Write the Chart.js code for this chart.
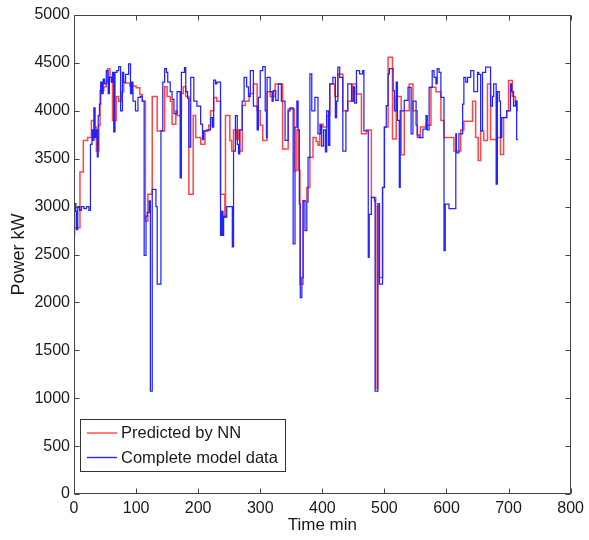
<!DOCTYPE html>
<html>
<head>
<meta charset="utf-8">
<script src="https://cdn.jsdelivr.net/npm/chart.js@4/dist/chart.umd.min.js"></script>
<style>
  html, body { margin: 0; padding: 0; background: #ffffff; }
  #wrap { width: 589px; height: 540px; }
</style>
</head>
<body>
<div id="wrap"><canvas id="c" width="589" height="540"></canvas></div>
<script>
// Time axis ticks (min) and power axis ticks (kW)
const xTickValues = [0, 100, 200, 300, 400, 500, 600, 700, 800];
const yTickValues = [0, 500, 1000, 1500, 2000, 2500, 3000, 3500, 4000, 4500, 5000];

const seriesNames = ['Predicted by NN', 'Complete model data'];

// Predicted by NN: change times (min) and held power levels (kW)
const predTimes = [0, 9.6, 15, 22, 28, 33, 36, 40, 42, 48, 52, 54, 58, 62, 68, 72, 76, 80, 90, 100,
  106, 110, 115, 119, 126, 134, 146, 150, 155, 158, 164, 166, 173, 176, 180, 185, 192, 196, 204, 211,
  217, 220, 225, 230, 236, 243, 244, 251, 254, 257, 262, 265, 267, 271, 276, 282, 289, 295, 300, 304,
  311, 316, 324, 336, 345, 355, 359, 362, 364, 369, 375, 380, 385, 390, 393, 396, 401, 407, 412, 420,
  425, 433, 441, 449, 455, 463, 471, 479, 486, 489, 492, 497, 500, 506, 513, 519, 527, 532, 540, 546,
  553, 558, 567, 575, 583, 591, 596, 612, 623, 628, 642, 647, 651, 655, 660, 666, 671, 682, 687, 692,
  697, 700, 706, 711, 714, 715];
const predPower = [2780, 3360, 3690, 3720, 3900, 3830, 3580, 3850, 4210, 4250, 4300, 4440, 4350, 3900, 4150, 4100, 4200, 4290, 4260, 4240,
  4170, 4100, 2850, 3130, 4150, 3790, 4250, 4150, 4100, 3860, 4000, 3950, 4180, 4250, 4150, 3130, 3950, 3720, 3650, 3790,
  3850, 4000, 4140, 4100, 3130, 2890, 3950, 3690, 3580, 3800, 3700, 3800, 3580, 4055, 4100, 4180, 4280, 4000, 3850, 3690,
  4200, 4150, 4280, 3600, 4020, 3375, 3800, 3380, 2190, 3060, 3200, 3515, 3720, 3680, 3640, 3860, 3830, 3950, 4280, 4150,
  4385, 4000, 4100, 4280, 4175, 3760, 3800, 3095, 1100, 3000, 2260, 3200, 3830, 4560, 3705, 4150, 3540, 4000, 4280, 4000,
  3720, 3830, 3850, 4245, 4200, 3900, 3720, 3580, 3800, 3890, 4100, 3720, 3480, 3790, 3690, 4280, 3700, 3720, 3545, 3930,
  4000, 4315, 4150, 4100, 4000, 4000];

// Complete model data: change times (min) and held power levels (kW)
const modelTimes = [0, 1, 3, 4, 6, 9, 12, 16, 20, 24, 26.5, 29, 31, 32, 34, 36, 37.5, 39, 41, 43,
  45, 47, 49, 52, 55, 57, 60, 62, 64, 66, 69, 72, 75, 78, 80, 83, 88, 91, 93, 95,
  99, 103, 107, 110, 113, 116, 118, 121, 123, 126, 132, 134, 140, 143, 146, 149, 151, 155, 158, 161,
  166, 171, 173, 178, 180, 183, 185, 188, 193, 198, 204, 207, 209, 214, 220, 223, 225, 228, 230, 236,
  238, 240, 241, 243, 246, 255, 257, 260, 263, 265, 267, 271, 274, 278, 281, 284, 289, 295, 297, 300,
  304, 308, 310, 311, 316, 319, 321, 325, 329, 334, 340, 345, 348, 353, 356, 359, 361, 363, 364.5, 367,
  369, 372, 375, 377, 380, 383, 388, 393, 397, 399, 402, 405, 407, 410, 412, 417, 421, 423, 425, 428,
  433, 438, 441, 447, 450, 452, 455, 460, 465, 467, 471, 474, 475.5, 479, 484, 485, 489.5, 492, 497, 500,
  503, 506, 508, 514, 516, 519, 521, 524, 525.5, 532, 538, 543, 546, 551, 553, 556, 562, 567, 569, 572,
  577, 580, 583, 585, 588, 591, 596, 598, 604, 615, 616, 620, 626, 628, 631, 634, 639, 644, 650, 652,
  655, 658, 663, 671, 674, 676, 680, 682, 685, 687, 689, 697, 703, 705, 708, 711, 713, 715];
const modelPower = [2700, 3030, 2950, 2760, 3000, 2960, 3000, 2980, 3000, 2960, 3650, 3800, 3690, 4030, 3720, 3800, 3520, 3950, 4070, 4300,
  4180, 4330, 4280, 4420, 4180, 4350, 4300, 4400, 3780, 4400, 4420, 4460, 4000, 4400, 4300, 4380, 4490, 4180, 4300, 4100,
  4000, 4140, 4150, 4100, 2490, 2900, 2940, 3060, 1075, 3180, 3000, 2190, 3790, 4300, 4440, 4400, 4300, 4200, 4120, 3970,
  4200, 3300, 4400, 4450, 4200, 4130, 3620, 4350, 4100, 4050, 3860, 3700, 3790, 3800, 3930, 3830, 4320, 4280, 4300, 2700,
  2950, 2700, 2900, 2890, 3000, 2580, 3580, 3950, 3650, 3550, 3800, 4100, 4350, 4250, 4150, 4420, 4050, 3800, 4140, 4420,
  4460, 4000, 3720, 4350, 4200, 4100, 4210, 4110, 4280, 4100, 3690, 4000, 4030, 2610, 3830, 4100, 3800, 3025, 2050, 2260,
  3060, 2750, 3050, 3515, 4385, 4000, 4140, 3760, 3850, 3630, 3800, 3570, 4000, 3640, 4280, 4350, 3930, 4100, 4455, 4350,
  3580, 4000, 4280, 4100, 4250, 4080, 4420, 4385, 4420, 3790, 3790, 2470, 2920, 3095, 3060, 1075, 3030, 2190, 3200, 3830,
  4055, 4385, 4440, 4210, 4000, 4300, 3900, 3200, 4000, 4110, 4245, 3760, 4100, 3850, 3750, 3720, 3810, 3950, 3800, 4245,
  4420, 4350, 4280, 4440, 4400, 4140, 2540, 3025, 2980, 3760, 3560, 3760, 4070, 4350, 4300, 4350, 4420, 4200, 4400, 4380,
  3790, 4400, 4455, 4050, 4150, 4280, 3235, 4200, 4100, 3720, 3930, 4000, 4280, 4200, 4050, 4100, 3700, 3700];

const toPoints = (ts, vs) => ts.map((t, i) => ({ x: t, y: vs[i] }));

const FONT = '"Liberation Sans", Arial, Helvetica, sans-serif';
const TEXT = '#1a1a1a';
const RED = '#ff4545';
const BLUE = '#2323ff';

// Box round the axes with inward tick marks on all four sides
const axesBox = {
  id: 'axesBox',
  afterDatasetsDraw(chart) {
    const { ctx, chartArea: a, scales: { x, y } } = chart;
    const L = Math.round(a.left) + 0.5, R = Math.round(a.right) - 0.5;
    const T = Math.round(a.top) + 0.5, B = Math.round(a.bottom) - 0.5;
    const len = 5;
    ctx.save();
    ctx.strokeStyle = '#454545';
    ctx.lineWidth = 1;
    ctx.beginPath();
    x.ticks.forEach(t => {
      const px = Math.round(x.getPixelForValue(t.value)) + 0.5;
      ctx.moveTo(px, B); ctx.lineTo(px, B - len);
      ctx.moveTo(px, T); ctx.lineTo(px, T + len);
    });
    y.ticks.forEach(t => {
      const py = Math.round(y.getPixelForValue(t.value)) + 0.5;
      ctx.moveTo(L, py); ctx.lineTo(L + len, py);
      ctx.moveTo(R, py); ctx.lineTo(R - len, py);
    });
    ctx.stroke();
    ctx.strokeRect(L, T, R - L, B - T);
    ctx.restore();
  }
};

// Boxed legend in the lower left corner of the plot
const boxedLegend = {
  id: 'boxedLegend',
  afterDraw(chart) {
    const { ctx } = chart;
    const ds = chart.data.datasets;
    const bx = 80.5, by = 419.5, bw = 205, bh = 52;
    ctx.save();
    ctx.fillStyle = '#ffffff';
    ctx.fillRect(bx, by, bw, bh);
    ctx.strokeStyle = '#333333';
    ctx.lineWidth = 1;
    ctx.strokeRect(bx, by, bw, bh);
    ctx.font = '16.5px ' + FONT;
    ctx.textBaseline = 'middle';
    ctx.fillStyle = TEXT;
    const rows = [433, 457.5];
    ds.forEach((d, i) => {
      const yy = rows[i];
      ctx.strokeStyle = d.borderColor;
      ctx.lineWidth = 1.4;
      ctx.beginPath();
      ctx.moveTo(87, yy); ctx.lineTo(117, yy);
      ctx.stroke();
      ctx.fillText(d.label, 121, yy + 0.5);
    });
    ctx.restore();
  }
};

new Chart(document.getElementById('c'), {
  type: 'line',
  data: {
    datasets: [
      {
        label: seriesNames[0],
        data: toPoints(predTimes, predPower),
        borderColor: RED,
        borderWidth: 1.5,
        stepped: true,
        pointRadius: 0,
        fill: false,
        order: 2
      },
      {
        label: seriesNames[1],
        data: toPoints(modelTimes, modelPower),
        borderColor: BLUE,
        borderWidth: 1.25,
        stepped: true,
        pointRadius: 0,
        fill: false,
        order: 1
      }
    ]
  },
  options: {
    responsive: false,
    animation: false,
    devicePixelRatio: 1,
    layout: { padding: { left: 0, top: 15, right: 14, bottom: 0 } },
    plugins: {
      legend: { display: false },
      tooltip: { enabled: false }
    },
    scales: {
      x: {
        type: 'linear',
        min: 0, max: 800,
        afterBuildTicks: s => { s.ticks = xTickValues.map(v => ({ value: v })); },
        afterFit: s => { s.height = 46; },
        grid: { display: false, drawTicks: false },
        border: { display: false },
        ticks: {
          padding: 5,
          color: TEXT,
          font: { family: FONT, size: 16 },
          maxRotation: 0,
          autoSkip: false,
          callback: v => String(v)
        },
        title: {
          display: true,
          text: 'Time min',
          color: TEXT,
          font: { family: FONT, size: 17 },
          padding: { top: 0, bottom: 4 }
        }
      },
      y: {
        type: 'linear',
        min: 0, max: 5000,
        afterBuildTicks: s => { s.ticks = yTickValues.map(v => ({ value: v })); },
        afterFit: s => { s.width = 74; },
        grid: { display: false, drawTicks: false },
        border: { display: false },
        ticks: {
          padding: 4,
          color: TEXT,
          font: { family: FONT, size: 16 },
          autoSkip: false,
          callback: v => String(v)
        },
        title: {
          display: true,
          text: 'Power kW',
          color: TEXT,
          font: { family: FONT, size: 18 },
          padding: { top: 8, bottom: 0 }
        }
      }
    }
  },
  plugins: [axesBox, boxedLegend]
});
</script>
</body>
</html>
